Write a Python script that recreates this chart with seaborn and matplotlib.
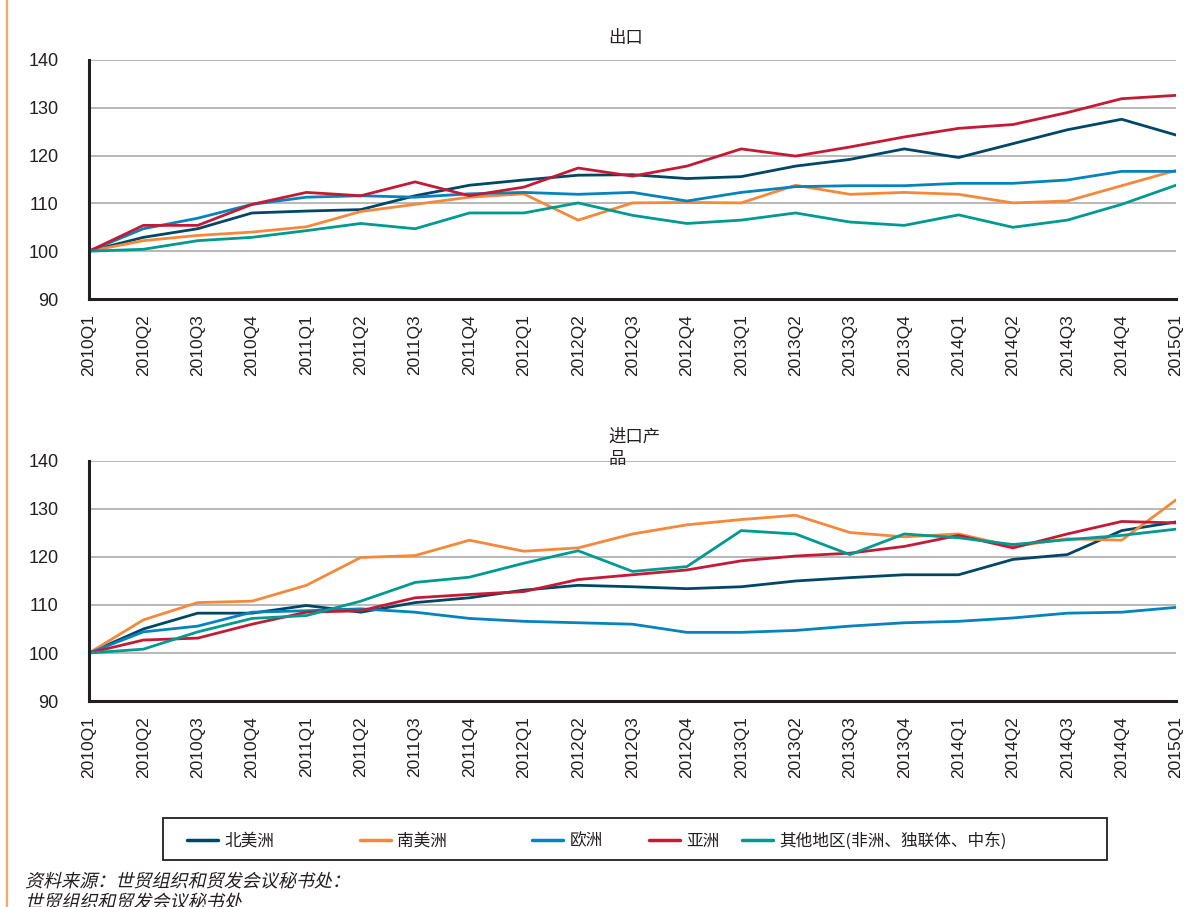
"""
plot.py
Export / import volume indices by region, 2010Q1 = 100.
"""

import pandas as pd
import matplotlib
matplotlib.use('Agg')
import matplotlib.pyplot as plt
from matplotlib.lines import Line2D
from matplotlib.patches import Rectangle
from matplotlib import patheffects
from matplotlib.transforms import Affine2D
import seaborn as sns

quarters = ["2010Q1", "2010Q2", "2010Q3", "2010Q4",
            "2011Q1", "2011Q2", "2011Q3", "2011Q4",
            "2012Q1", "2012Q2", "2012Q3", "2012Q4",
            "2013Q1", "2013Q2", "2013Q3", "2013Q4",
            "2014Q1", "2014Q2", "2014Q3", "2014Q4",
            "2015Q1"]

regions = ["北美洲", "南美洲", "欧洲", "亚洲", "其他地区(非洲、独联体、中东)"]
colors  = ["#004766", "#F5883A", "#0583BC", "#C41A36", "#009A90"]

# 出口
exp_north_america = [100, 102.9, 104.7, 108.0, 108.4, 108.7, 111.6, 113.8, 114.9, 115.9, 116.0,
                     115.2, 115.6, 117.8, 119.2, 121.4, 119.6, 122.5, 125.4, 127.6, 124.3]
exp_south_america = [100, 102.2, 103.3, 104.0, 105.1, 108.3, 109.8, 111.3, 112.0, 106.5, 110.1,
                     110.2, 110.1, 113.8, 111.9, 112.3, 111.9, 110.1, 110.5, 113.7, 116.9]
exp_europe        = [100, 104.7, 106.9, 109.8, 111.3, 111.6, 111.3, 112.0, 112.3, 111.9, 112.3,
                     110.5, 112.3, 113.5, 113.7, 113.7, 114.2, 114.2, 114.9, 116.7, 116.7]
exp_asia          = [100, 105.4, 105.4, 109.8, 112.3, 111.6, 114.5, 111.6, 113.4, 117.4, 115.7,
                     117.8, 121.4, 119.9, 121.8, 123.9, 125.7, 126.5, 129.0, 131.9, 132.6]
exp_other         = [100, 100.4, 102.2, 102.9, 104.3, 105.8, 104.7, 108.0, 108.0, 110.1, 107.5,
                     105.8, 106.5, 108.0, 106.1, 105.4, 107.6, 105.0, 106.5, 109.8, 113.8]

# 进口产品
imp_north_america = [100, 105.0, 108.3, 108.3, 109.9, 108.5, 110.5, 111.5, 113.1, 114.1, 113.8,
                     113.4, 113.8, 115.0, 115.7, 116.3, 116.3, 119.5, 120.5, 125.5, 127.3]
imp_south_america = [100, 106.9, 110.5, 110.8, 114.1, 119.9, 120.3, 123.5, 121.2, 121.9, 124.8,
                     126.7, 127.8, 128.7, 125.1, 124.2, 124.8, 122.2, 123.8, 123.5, 131.9]
imp_europe        = [100, 104.4, 105.6, 108.5, 108.8, 109.2, 108.5, 107.2, 106.6, 106.3, 106.0,
                     104.3, 104.3, 104.7, 105.6, 106.3, 106.6, 107.3, 108.3, 108.5, 109.5]
imp_asia          = [100, 102.7, 103.1, 106.0, 108.5, 108.8, 111.5, 112.2, 112.8, 115.3, 116.3,
                     117.3, 119.2, 120.2, 120.8, 122.2, 124.5, 121.9, 124.8, 127.4, 127.1]
imp_other         = [100, 100.8, 104.4, 107.2, 107.8, 110.8, 114.7, 115.8, 118.7, 121.3, 117.0,
                     118.0, 125.5, 124.8, 120.5, 124.8, 124.0, 122.6, 123.6, 124.5, 125.8]

yticks = [90, 100, 110, 120, 130, 140]

sns.set_style("white")
plt.rcParams['font.family'] = ['Noto Sans CJK SC', 'Liberation Sans', 'DejaVu Sans']

INK = "#231F20"
W, H = 1197, 907


class Slant(patheffects.AbstractPathEffect):
    """fake italic: the CJK font has no oblique face"""
    def draw_path(self, renderer, gc, tpath, affine, rgbFace=None):
        renderer.draw_path(gc, tpath, Affine2D().skew_deg(13, 0) + affine, rgbFace)


def long_frame(series):
    df = pd.DataFrame(dict(zip(regions, series)))
    df["idx"] = range(len(quarters))
    return df.melt(id_vars="idx", var_name="region", value_name="value")


def draw(ax, series):
    df = long_frame(series)
    sns.lineplot(data=df, x="idx", y="value", hue="region", hue_order=regions,
                 palette=colors, linewidth=2.0, ax=ax, legend=False)
    ax.set_xlim(0, len(quarters) - 1)
    ax.set_ylim(90, 140)
    ax.set_yticks(yticks)
    ax.set_xticks(range(len(quarters)))
    ax.set_xticklabels(quarters, rotation=90, fontsize=12.5, family='Liberation Sans')
    ax.set_yticklabels([str(v) for v in yticks], fontsize=13, family='Liberation Sans')
    ax.set_xlabel("")
    ax.set_ylabel("")
    ax.yaxis.grid(True, color="#ABABAB", linewidth=1.2)
    ax.set_axisbelow(True)
    for side in ("top", "right"):
        ax.spines[side].set_visible(False)
    for side in ("left", "bottom"):
        ax.spines[side].set_color(INK)
        ax.spines[side].set_linewidth(2.2)
    ax.tick_params(axis="both", direction="out", length=11, width=1.8,
                   color=INK, labelcolor=INK)
    ax.tick_params(axis="x", pad=0)
    ax.tick_params(axis="y", pad=11)


fig = plt.figure(figsize=(W / 100, H / 100), dpi=100)
ax1 = fig.add_axes([89 / W, 1 - 299 / H, 1087 / W, 239 / H])
ax2 = fig.add_axes([89 / W, 1 - 701 / H, 1087 / W, 240 / H])

draw(ax1, [exp_north_america, exp_south_america, exp_europe, exp_asia, exp_other])
draw(ax2, [imp_north_america, imp_south_america, imp_europe, imp_asia, imp_other])

fig.text(608 / W, 1 - 37.5 / H, "出口", fontsize=12.5, va="center", ha="left", color=INK)
fig.text(608 / W, 1 - 428 / H, "进口产\n品", fontsize=12.5, va="top", ha="left",
         color=INK, linespacing=1.3)

# legend: framed box with the five entries at their own spots
fig.add_artist(Rectangle((163 / W, 1 - 860 / H), 944 / W, 42 / H, transform=fig.transFigure,
                         facecolor="white", edgecolor=INK, linewidth=1.3))
entry_x = [187, 360, 532, 649, 742]
for name, col, x in zip(regions, colors, entry_x):
    leg = fig.legend([Line2D([], [], color=col, linewidth=2.5)], [name],
                     loc="center left", bbox_to_anchor=(x / W, 1 - 841 / H),
                     fontsize=12, handlelength=1.85, handletextpad=0.4,
                     frameon=False, borderaxespad=0, borderpad=0)
    for t in leg.get_texts():
        t.set_color(INK)

# orange rule down the left edge
fig.add_artist(Line2D([7 / W, 7 / W], [0, 1], color="#F5A868", linewidth=1.6))

fig.text(25 / W, 1 - 873 / H, "资料来源：世贸组织和贸发会议秘书处：\n世贸组织和贸发会议秘书处",
         fontsize=13, va="top", ha="left", color=INK, linespacing=1.2,
         path_effects=[Slant()])

plt.savefig("out.png", dpi=100)
plt.close()
